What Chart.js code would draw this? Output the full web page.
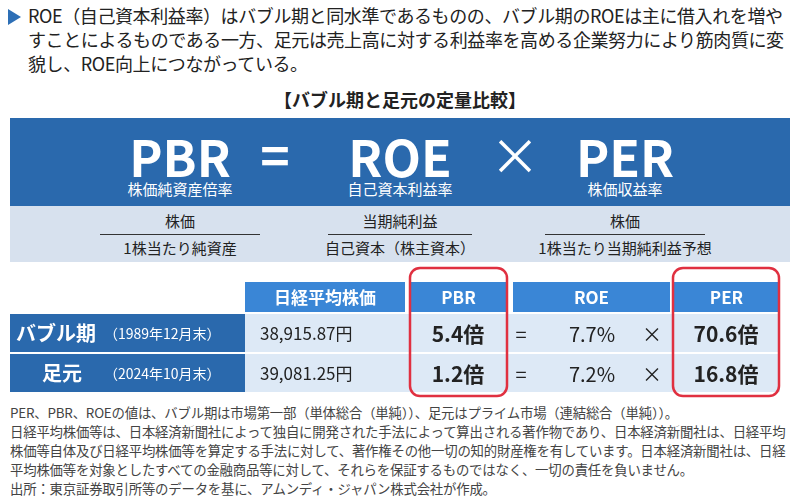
<!DOCTYPE html>
<html><head><meta charset="utf-8">
<script src="https://cdn.jsdelivr.net/npm/chart.js@4"></script>
<style>
body{margin:0;width:800px;height:503px;background:#fff;font-family:"Noto Sans CJK JP",sans-serif;color:#222;position:relative;overflow:hidden}
.abs{position:absolute}
#intro{left:28px;top:3px;width:765px;font-size:18px;line-height:24px;letter-spacing:-0.4px}
#tri{left:8px;top:9px;width:0;height:0;border-left:13px solid #2d6fb6;border-top:8px solid transparent;border-bottom:8px solid transparent}
#title{left:0;width:800px;top:86px;text-align:center;font-size:18px;font-weight:bold}
#band{left:10px;top:118px;width:780px;height:88px;background:#2a69ad}
#band2{left:10px;top:206px;width:780px;height:56px;background:#d7e1ee}
.big{color:#fff;font-weight:bold;font-size:50px;text-align:center;line-height:50px}
.sub{color:#fff;font-size:15px;text-align:center}
.frac{text-align:center;font-size:15px;line-height:26px}
.frac div:first-child{border-bottom:1.5px solid #333}
#foot{left:10px;top:403px;width:785px;font-size:13.4px;line-height:19px;color:#444;letter-spacing:-0.2px}
</style></head><body>
<div id="tri" class="abs"></div>
<div id="intro" class="abs">ROE（自己資本利益率）はバブル期と同水準であるものの、バブル期のROEは主に借入れを増やすことによるものである一方、足元は売上高に対する利益率を高める企業努力により筋肉質に変貌し、ROE向上につながっている。</div>
<div id="title" class="abs">【バブル期と足元の定量比較】</div>
<div id="band" class="abs"></div>
<div id="band2" class="abs"></div>
<div id="formula"></div>
<canvas id="tbl" class="abs" style="left:0;top:262px" width="800" height="140"></canvas>
<div id="foot" class="abs">PER、PBR、ROEの値は、バブル期は市場第一部（単体総合（単純））、足元はプライム市場（連結総合（単純））。<br>日経平均株価等は、日本経済新聞社によって独自に開発された手法によって算出される著作物であり、日本経済新聞社は、日経平均株価等自体及び日経平均株価等を算定する手法に対して、著作権その他一切の知的財産権を有しています。日本経済新聞社は、日経平均株価等を対象としたすべての金融商品等に対して、それらを保証するものではなく、一切の責任を負いません。<br>出所：東京証券取引所等のデータを基に、アムンディ・ジャパン株式会社が作成。</div>
<script>
const terms = ['PBR', 'ROE', 'PER'];
const termNames = ['株価純資産倍率', '自己資本利益率', '株価収益率'];
const numerators = ['株価', '当期純利益', '株価'];
const denominators = ['1株当たり純資産', '自己資本（株主資本）', '1株当たり当期純利益予想'];
const periods = ['バブル期', '足元'];
const periodDates = ['（1989年12月末）', '（2024年10月末）'];
const nikkei = ['38,915.87円', '39,081.25円'];
const pbr = [5.4, 1.2];
const roe = [7.7, 7.2];
const per = [70.6, 16.8];

// formula band
const fx = [180, 400, 625];
let html = '';
terms.forEach((t, i) => {
  html += `<div class="abs big" style="left:${fx[i]-100}px;width:200px;top:130px">${t}</div>`;
  html += `<div class="abs sub" style="left:${fx[i]-100}px;width:200px;top:178px">${termNames[i]}</div>`;
  html += `<div class="abs frac" style="left:${fx[i]-100}px;width:200px;top:208px"><div style="margin:0 ${i==1?28:20}px">${numerators[i]}</div><div>${denominators[i]}</div></div>`;
});
html += `<div class="abs big" style="left:245px;width:60px;top:128px">=</div>`;
html += `<div class="abs big" style="left:485px;width:60px;top:128px;font-weight:normal">×</div>`;
document.getElementById('formula').innerHTML = html;

// comparison table drawn on a Chart.js canvas through a plugin
const cols = [[245, 405], [410, 507], [513, 670], [674, 779]];
const tablePlugin = {
  id: 'table',
  afterDraw(chart) {
    const c = chart.ctx;
    c.save();
    const F = '"Noto Sans CJK JP", sans-serif';
    c.textBaseline = 'middle';
    c.textAlign = 'center';
    const heads = ['日経平均株価', 'PBR', 'ROE', 'PER'];
    cols.forEach((x, i) => {
      c.fillStyle = '#3a86d6';
      c.fillRect(x[0], 20, x[1] - x[0], 30);
      c.fillStyle = '#fff';
      c.font = 'bold 17px ' + F;
      c.fillText(heads[i], (x[0] + x[1]) / 2, 36);
    });
    periods.forEach((p, r) => {
      const y = 52 + r * 40;
      c.fillStyle = '#2a69ad';
      c.fillRect(10, y, 235, 38);
      c.fillStyle = '#dde9f6';
      c.fillRect(245, y, 535, 38);
      c.fillStyle = '#fff';
      c.textAlign = 'left';
      c.font = 'bold 20px ' + F;
      c.fillText(p, r ? 42 : 16, y + 19);
      c.font = '14px ' + F;
      c.fillText(periodDates[r], 104, y + 20);
      c.fillStyle = '#222';
      c.font = '17px ' + F;
      c.fillText(nikkei[r], 260, y + 20);
      c.textAlign = 'center';
      c.font = 'bold 21px ' + F;
      c.fillText(pbr[r].toFixed(1) + '倍', 458, y + 20);
      c.font = '20px ' + F;
      c.fillText('=', 521, y + 20);
      c.fillText(roe[r].toFixed(1) + '%', 592, y + 20);
      c.fillText('×', 652, y + 20);
      c.font = 'bold 21px ' + F;
      c.fillText(per[r].toFixed(1) + '倍', 726, y + 20);
    });
    c.strokeStyle = '#e03040';
    c.lineWidth = 2.5;
    [[410, 507], [673, 779]].forEach(x => {
      c.beginPath();
      c.roundRect(x[0], 6, x[1] - x[0], 128, 10);
      c.stroke();
    });
    c.restore();
  }
};
new Chart(document.getElementById('tbl'), {
  type: 'bar',
  data: { labels: periods, datasets: [{ data: [], label: 'PBR' }] },
  options: {
    responsive: false, animation: false,
    plugins: { legend: { display: false }, tooltip: { enabled: false } },
    scales: { x: { display: false }, y: { display: false } }
  },
  plugins: [tablePlugin]
});
</script>
</body></html>
